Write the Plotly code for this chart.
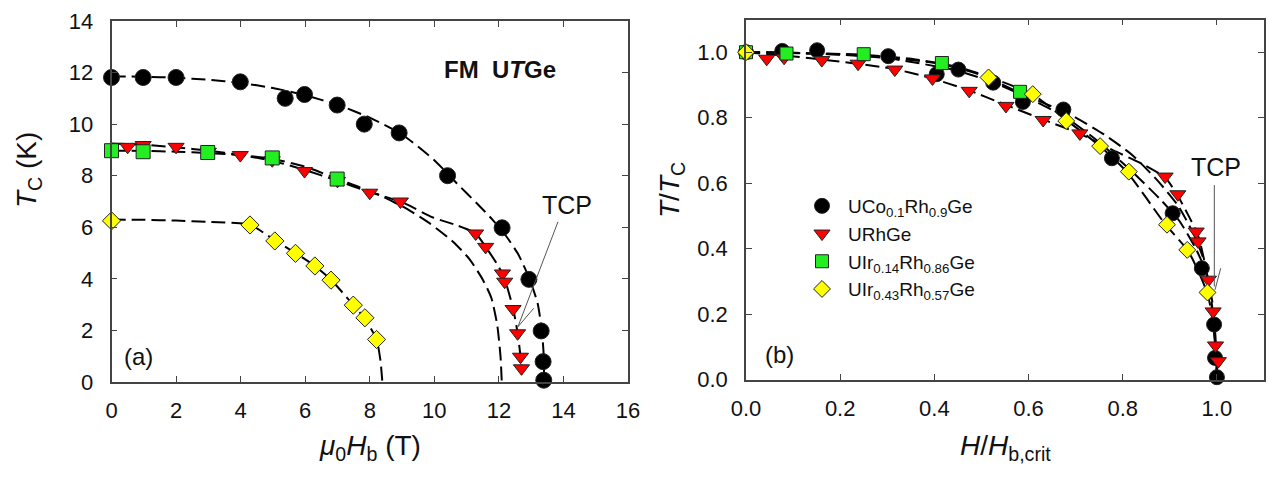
import plotly.graph_objects as go

FONT = "Liberation Sans, Arial, sans-serif"
W, H = 1268, 485

# ---------------- Panel (a) data: Tc vs mu0 Hb ----------------
black_h = [0, 0.98, 2.0, 3.99, 5.38, 5.98, 6.99, 7.83, 8.91, 10.41, 12.1, 12.93, 13.31, 13.37, 13.39]
black_t = [11.81, 11.81, 11.81, 11.64, 11.0, 11.15, 10.74, 10.0, 9.66, 8.0, 5.98, 3.98, 1.98, 0.79, 0.07]

red_h = [0.5, 0.98, 2.0, 3.0, 3.99, 4.98, 5.98, 7.0, 8.0, 8.95, 11.28, 11.59, 12.11, 12.18, 12.44, 12.58, 12.67, 12.7]
red_t = [9.12, 9.19, 9.12, 8.93, 8.8, 8.6, 8.18, 7.8, 7.34, 7.0, 5.76, 5.24, 4.21, 3.89, 2.83, 1.89, 0.98, 0.53]

green_h = [0, 0.98, 2.98, 4.98, 6.99]
green_t = [8.97, 8.93, 8.9, 8.69, 7.87]

yellow_h = [0, 4.29, 5.06, 5.7, 6.3, 6.8, 7.49, 7.85, 8.21]
yellow_t = [6.25, 6.09, 5.47, 4.99, 4.5, 3.95, 2.98, 2.49, 1.65]

# dashed guide curves
black_fit_h = [0, 1, 2, 3, 4, 5, 6, 7, 8, 9, 10, 10.7, 11.3, 11.8, 12.2, 12.6, 12.95, 13.2, 13.33, 13.39, 13.4]
black_fit_t = [11.85, 11.84, 11.8, 11.72, 11.6, 11.4, 11.12, 10.75, 10.25, 9.6, 8.6, 7.7, 6.95, 6.3, 5.7, 4.95, 4.0, 3.05, 2.0, 1.0, 0.0]

red_fit_h = [0, 1, 2, 3, 4, 5, 6, 7, 8, 9, 9.96, 10.69, 11.28, 11.59, 11.93, 12.15, 12.44, 12.58, 12.67, 12.72]
red_fit_t = [9.25, 9.2, 9.1, 8.97, 8.8, 8.57, 8.22, 7.8, 7.37, 6.97, 6.38, 6.08, 5.76, 5.24, 4.6, 4.1, 2.85, 1.9, 1.0, 0.3]

green_fit_h = [0, 1, 2, 3, 4, 5, 6, 7, 7.7, 8.3, 9.14, 9.86, 10.58, 11.1, 11.51, 11.77, 11.95, 12.05, 12.09]
green_fit_t = [8.97, 8.96, 8.93, 8.88, 8.8, 8.65, 8.35, 7.87, 7.55, 7.25, 6.72, 6.15, 5.44, 4.75, 3.95, 3.25, 2.2, 1.0, 0.0]

yellow_fit_h = [0, 1, 2, 3, 4.29, 4.7, 5.06, 5.7, 6.3, 6.8, 7.49, 7.85, 8.21, 8.33, 8.39]
yellow_fit_t = [6.3, 6.29, 6.26, 6.21, 6.1, 5.8, 5.5, 5.0, 4.5, 3.97, 2.98, 2.45, 1.65, 0.85, 0.0]

# ---------------- Panel (b) data: T/Tc vs H/Hb,crit ----------------
black_x = [0, 0.077, 0.151, 0.302, 0.405, 0.451, 0.525, 0.588, 0.674, 0.777, 0.906, 0.968, 0.994, 0.996, 1.0]
black_y = [1.0, 1.004, 1.006, 0.988, 0.933, 0.947, 0.907, 0.848, 0.825, 0.676, 0.508, 0.34, 0.168, 0.066, 0.007]

red_x = [0.044, 0.081, 0.161, 0.238, 0.316, 0.396, 0.474, 0.552, 0.631, 0.709, 0.89, 0.917, 0.956, 0.96, 0.982, 0.992, 0.997, 1.003]
red_y = [0.98, 0.983, 0.976, 0.965, 0.947, 0.92, 0.882, 0.836, 0.793, 0.752, 0.62, 0.566, 0.452, 0.422, 0.305, 0.208, 0.104, 0.056]

green_x = [0, 0.086, 0.25, 0.416, 0.582]
green_y = [1.0, 0.996, 0.994, 0.967, 0.879]

yellow_x = [0, 0.515, 0.609, 0.68, 0.752, 0.813, 0.894, 0.937, 0.98]
yellow_y = [1.0, 0.923, 0.872, 0.79, 0.713, 0.635, 0.473, 0.396, 0.266]

bfit_x = [0, 0.08, 0.15, 0.3, 0.45, 0.53, 0.6, 0.68, 0.75, 0.82, 0.88, 0.92, 0.955, 0.975, 0.99, 0.997, 1.0]
bfit_y = [1.0, 0.999, 0.996, 0.982, 0.943, 0.905, 0.86, 0.8, 0.725, 0.635, 0.55, 0.485, 0.4, 0.335, 0.24, 0.13, 0.0]

rfit_x = [0, 0.08, 0.16, 0.31, 0.39, 0.47, 0.55, 0.63, 0.71, 0.78, 0.84, 0.89, 0.915, 0.94, 0.96, 0.978, 0.99, 0.997, 1.0]
rfit_y = [1.0, 0.99, 0.978, 0.95, 0.922, 0.885, 0.84, 0.795, 0.75, 0.7, 0.66, 0.617, 0.566, 0.5, 0.44, 0.33, 0.21, 0.1, 0.03]

gfit_x = [0, 0.083, 0.25, 0.41, 0.5, 0.58, 0.69, 0.76, 0.82, 0.875, 0.918, 0.952, 0.973, 0.988, 0.997, 1.0]
gfit_y = [1.0, 0.998, 0.99, 0.965, 0.93, 0.877, 0.808, 0.749, 0.686, 0.606, 0.53, 0.44, 0.362, 0.245, 0.111, 0.0]

yfit_x = [0, 0.24, 0.36, 0.45, 0.515, 0.61, 0.68, 0.75, 0.81, 0.89, 0.94, 0.98, 0.993, 1.0]
yfit_y = [1.0, 0.993, 0.978, 0.955, 0.925, 0.87, 0.793, 0.715, 0.632, 0.475, 0.39, 0.262, 0.16, 0.0]

names = ["UCo<sub>0.1</sub>Rh<sub>0.9</sub>Ge", "URhGe",
         "UIr<sub>0.14</sub>Rh<sub>0.86</sub>Ge", "UIr<sub>0.43</sub>Rh<sub>0.57</sub>Ge"]
colors = ["#000000", "#ff0000", "#22ee22", "#ffff00"]
symbols = ["circle", "triangle-down", "square", "diamond"]
sizes_a = [16, 14, 14, 14]
sizes_b = [15, 14, 13, 13]

DASH = "14px,6px"
fig = go.Figure()

fits_a = [(black_fit_h, black_fit_t), (red_fit_h, red_fit_t), (green_fit_h, green_fit_t), (yellow_fit_h, yellow_fit_t)]
fits_b = [(bfit_x, bfit_y), (rfit_x, rfit_y), (gfit_x, gfit_y), (yfit_x, yfit_y)]
pts_a = [(black_h, black_t), (red_h, red_t), (green_h, green_t), (yellow_h, yellow_t)]
pts_b = [(black_x, black_y), (red_x, red_y), (green_x, green_y), (yellow_x, yellow_y)]

for (fx, fy) in fits_a:
    fig.add_trace(go.Scatter(x=fx, y=fy, mode="lines", xaxis="x", yaxis="y", showlegend=False,
                             line=dict(color="black", width=2, dash=DASH, shape="spline", smoothing=0.6),
                             hoverinfo="skip"))
for (fx, fy) in fits_b:
    fig.add_trace(go.Scatter(x=fx, y=fy, mode="lines", xaxis="x2", yaxis="y2", showlegend=False,
                             line=dict(color="black", width=2, dash=DASH, shape="spline", smoothing=0.6),
                             hoverinfo="skip"))

for i, (px, py) in enumerate(pts_a):
    fig.add_trace(go.Scatter(x=px, y=py, mode="markers", xaxis="x", yaxis="y", showlegend=False,
                             cliponaxis=False,
                             marker=dict(symbol=symbols[i], size=sizes_a[i], color=colors[i],
                                         line=dict(color="#222", width=1))))
for i, (px, py) in enumerate(pts_b):
    fig.add_trace(go.Scatter(x=px, y=py, mode="markers", xaxis="x2", yaxis="y2", name=names[i],
                             legendgroup=f"g{i}", cliponaxis=False,
                             marker=dict(symbol=symbols[i], size=sizes_b[i], color=colors[i],
                                         line=dict(color="#222", width=1))))

axis_common = dict(showline=True, linecolor="#444", linewidth=1.5, mirror="ticks", ticks="inside",
                   ticklen=6, tickwidth=1.2, tickcolor="#444", showgrid=False, zeroline=False,
                   automargin=False, tickfont=dict(size=22, color="#111", family=FONT))

fig.update_layout(
    width=W, height=H, margin=dict(l=0, r=0, t=0, b=0, autoexpand=False),
    paper_bgcolor="white", plot_bgcolor="white",
    font=dict(family=FONT, color="#111"),
    xaxis=dict(domain=[111.5 / W, 628 / W], range=[0, 16], tickvals=[0, 2, 4, 6, 8, 10, 12, 14, 16],
               anchor="y", ticklabelstandoff=8, **axis_common),
    yaxis=dict(domain=[(H - 382) / H, (H - 21) / H], range=[0, 14], tickvals=[0, 2, 4, 6, 8, 10, 12, 14],
               anchor="x", ticklabelstandoff=12, **axis_common),
    xaxis2=dict(domain=[746 / W, 1264 / W], range=[0, 1.1], tickvals=[0, 0.2, 0.4, 0.6, 0.8, 1.0],
                tickformat=".1f", anchor="y2", ticklabelstandoff=8, **axis_common),
    yaxis2=dict(domain=[(H - 379.5) / H, (H - 19.5) / H], range=[0, 1.1], tickvals=[0, 0.2, 0.4, 0.6, 0.8, 1.0],
                tickformat=".1f", anchor="x2", ticklabelstandoff=12, **axis_common),
    legend=dict(x=796 / W, y=1 - 187 / H, xanchor="left", yanchor="top", bgcolor="rgba(0,0,0,0)",
                font=dict(size=19, family=FONT, color="#111"), tracegroupgap=0, traceorder="grouped",
                itemwidth=42),
)

ann = []
def pa(text, px, py, size=28, angle=0):
    ann.append(dict(text=text, x=px / W, y=1 - py / H, xref="paper", yref="paper", showarrow=False,
                    font=dict(size=size, family=FONT, color="#111"), textangle=angle,
                    xanchor="center", yanchor="middle"))

pa("<i>μ</i><sub>0</sub><i>H</i><sub>b</sub> (T)", 370, 447)
pa("<i>T</i><sub>C</sub> (K)", 28, 170, angle=-90)
pa("<i>H</i>/<i>H</i><sub>b,crit</sub>", 1005, 447)
pa("<i>T</i>/<i>T</i><sub>C</sub>", 672, 190, angle=-90)

ann.append(dict(text="<b>FM  U<i>T</i>Ge</b>", x=12.03, y=12.1, xref="x", yref="y", showarrow=False,
                font=dict(size=24, family=FONT, color="#111")))
ann.append(dict(text="(a)", x=0.85, y=0.97, xref="x", yref="y", showarrow=False,
                font=dict(size=24, family=FONT, color="#111")))
ann.append(dict(text="(b)", x=0.072, y=0.076, xref="x2", yref="y2", showarrow=False,
                font=dict(size=24, family=FONT, color="#111")))
ann.append(dict(text="TCP", x=14.12, y=6.86, xref="x", yref="y", showarrow=False,
                font=dict(size=25, family=FONT, color="#111")))
ann.append(dict(text="TCP", x=0.998, y=0.649, xref="x2", yref="y2", showarrow=False,
                font=dict(size=25, family=FONT, color="#111")))
fig.update_layout(annotations=ann)

shp = []
def seg(x0, y0, x1, y1, xr, yr):
    shp.append(dict(type="line", x0=x0, y0=y0, x1=x1, y1=y1, xref=xr, yref=yr,
                    line=dict(color="#555", width=1)))
seg(13.83, 6.21, 12.59, 2.14, "x", "y")
seg(13.08, 2.86, 12.59, 2.14, "x", "y")
seg(0.9945, 0.594, 0.9945, 0.284, "x2", "y2")
seg(1.008, 0.34, 0.996, 0.274, "x2", "y2")
fig.update_layout(shapes=shp)

fig.write_html("out.html")
